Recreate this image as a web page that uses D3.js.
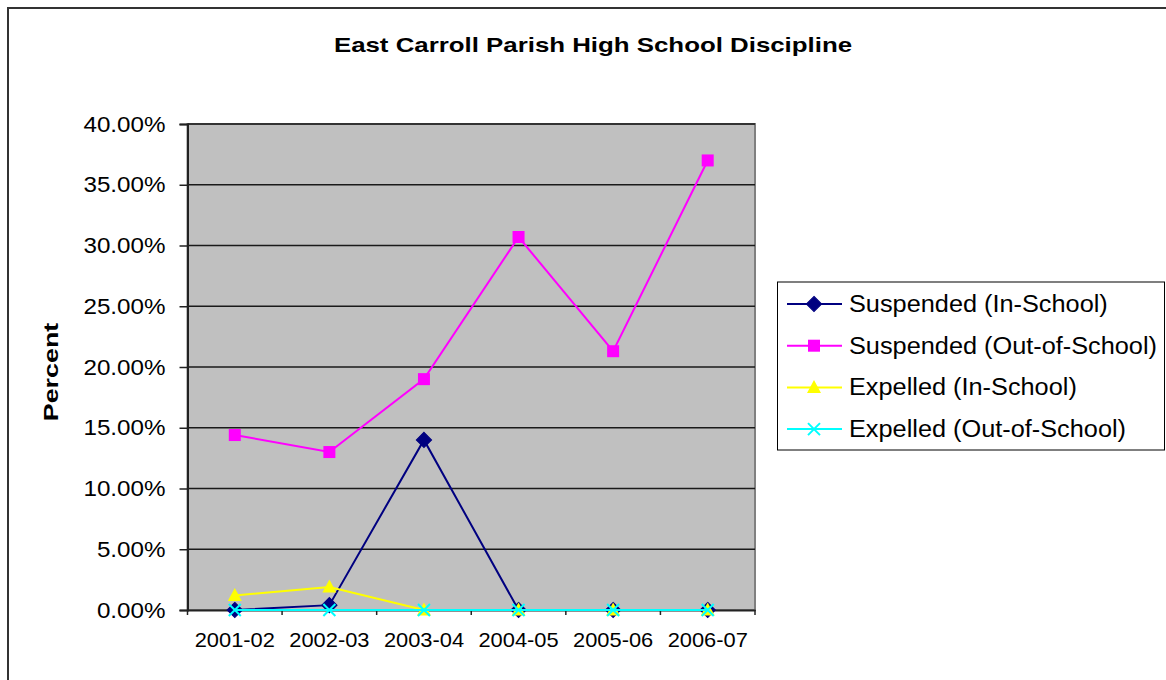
<!DOCTYPE html>
<html>
<head>
<meta charset="utf-8">
<script src="https://cdn.jsdelivr.net/npm/d3@7"></script>
<style>
  body { margin: 0; background: #fff; }
  text { font-family: Arial, "Liberation Sans", sans-serif; fill: #000; }
</style>
</head>
<body>
<svg id="chart" width="1166" height="680"></svg>
<script>
// data
var years = ["2001-02", "2002-03", "2003-04", "2004-05", "2005-06", "2006-07"];
var suspendedIn = [0.0, 0.4, 14.0, 0.0, 0.0, 0.0];
var suspendedOut = [14.4, 13.0, 19.0, 30.7, 21.3, 37.0];
var expelledIn = [1.2, 1.9, 0.0, 0.0, 0.0, 0.0];
var expelledOut = [0.0, 0.0, 0.0, 0.0, 0.0, 0.0];
var seriesNames = ["Suspended (In-School)", "Suspended (Out-of-School)", "Expelled (In-School)", "Expelled (Out-of-School)"];
var yTicks = [0, 5, 10, 15, 20, 25, 30, 35, 40];

var series = [
  { name: seriesNames[0], values: suspendedIn, color: "#000080", shape: "diamond" },
  { name: seriesNames[1], values: suspendedOut, color: "#FF00FF", shape: "square" },
  { name: seriesNames[2], values: expelledIn, color: "#FFFF00", shape: "triangle" },
  { name: seriesNames[3], values: expelledOut, color: "#00FFFF", shape: "cross" }
];

var svg = d3.select("#chart");
var plot = { left: 187.5, right: 755, top: 124, bottom: 610 };

// text drawn wider than the font's natural width in the original
function stretch(sel, k) {
  sel.each(function() {
    var w = this.getComputedTextLength();
    d3.select(this).attr("textLength", w * k).attr("lengthAdjust", "spacingAndGlyphs");
  });
}

// chart frame (right and bottom edges fall outside the picture)
svg.append("rect")
  .attr("x", 8).attr("y", 8).attr("width", 1200).attr("height", 700)
  .attr("fill", "#fff").attr("stroke", "#333").attr("stroke-width", 2);

var x = d3.scaleBand().domain(years).range([plot.left, plot.right]);
var y = d3.scaleLinear().domain([0, 40]).range([plot.bottom, plot.top]);

// plot area
svg.append("rect")
  .attr("x", plot.left).attr("y", plot.top)
  .attr("width", plot.right - plot.left).attr("height", plot.bottom - plot.top)
  .attr("fill", "#C0C0C0").attr("stroke", "#808080").attr("stroke-width", 2);

svg.append("g").selectAll("line").data(yTicks.slice(1)).enter().append("line")
  .attr("x1", plot.left).attr("x2", plot.right)
  .attr("y1", function(d) { return y(d); }).attr("y2", function(d) { return y(d); })
  .attr("stroke", "#1a1a1a").attr("stroke-width", 1.6);

// y axis
var yAxis = svg.append("g")
  .attr("transform", "translate(" + plot.left + ",0)")
  .call(d3.axisLeft(y).tickValues(yTicks).tickSize(8).tickPadding(14)
    .tickFormat(function(d) { return d.toFixed(2) + "%"; }));
yAxis.select(".domain").attr("stroke", "#222").attr("stroke-width", 2);
yAxis.selectAll(".tick line").attr("stroke", "#222").attr("stroke-width", 1.5);
yAxis.selectAll("text").attr("font-size", 22).attr("fill", "#000").attr("font-family", "Arial, 'Liberation Sans', sans-serif");
stretch(yAxis.selectAll("text"), 1.1);

// x axis, ticks at category boundaries
var xAxis = svg.append("g")
  .attr("transform", "translate(0," + plot.bottom + ")")
  .call(d3.axisBottom(x).tickSize(0).tickPadding(22));
xAxis.select(".domain").attr("stroke", "#222").attr("stroke-width", 2);
xAxis.selectAll("text").attr("font-size", 21).attr("fill", "#000").attr("font-family", "Arial, 'Liberation Sans', sans-serif");
stretch(xAxis.selectAll("text"), 1.04);
svg.append("g").selectAll("line").data(years.concat([null])).enter().append("line")
  .attr("x1", function(d, i) { return plot.left + i * x.step(); })
  .attr("x2", function(d, i) { return plot.left + i * x.step(); })
  .attr("y1", plot.bottom).attr("y2", plot.bottom + 5)
  .attr("stroke", "#222").attr("stroke-width", 1.5);

// markers
function marker(g, shape, color, cx, cy) {
  if (shape === "diamond") {
    g.append("path").attr("d", d3.symbol(d3.symbolDiamond2, 110)())
      .attr("transform", "translate(" + cx + "," + cy + ") scale(1.15,1.15)")
      .attr("fill", color).attr("stroke", color);
  } else if (shape === "square") {
    g.append("rect").attr("x", cx - 6).attr("y", cy - 6).attr("width", 12).attr("height", 12)
      .attr("fill", color);
  } else if (shape === "triangle") {
    g.append("path").attr("d", "M" + cx + "," + (cy - 7.5) + "L" + (cx + 7) + "," + (cy + 5.5) + "L" + (cx - 7) + "," + (cy + 5.5) + "Z")
      .attr("fill", color);
  } else {
    g.append("path").attr("d", "M" + (cx - 6) + "," + (cy - 6) + "L" + (cx + 6) + "," + (cy + 6) +
        "M" + (cx + 6) + "," + (cy - 6) + "L" + (cx - 6) + "," + (cy + 6))
      .attr("stroke", color).attr("stroke-width", 2);
  }
}

var line = d3.line()
  .x(function(d, i) { return x(years[i]) + x.bandwidth() / 2; })
  .y(function(d) { return y(d); });

series.forEach(function(s) {
  var g = svg.append("g");
  g.append("path").datum(s.values).attr("d", line)
    .attr("fill", "none").attr("stroke", s.color).attr("stroke-width", 2);
  s.values.forEach(function(v, i) {
    marker(g, s.shape, s.color, x(years[i]) + x.bandwidth() / 2, y(v));
  });
});

// title and axis title
var title = svg.append("text")
  .attr("x", 593).attr("y", 52).attr("text-anchor", "middle")
  .attr("font-size", 21).attr("font-weight", "bold")
  .text("East Carroll Parish High School Discipline");
stretch(title, 1.23);

var yTitle = svg.append("text")
  .attr("transform", "translate(58,372) rotate(-90)").attr("text-anchor", "middle")
  .attr("font-size", 21).attr("font-weight", "bold")
  .text("Percent");
stretch(yTitle, 1.28);

// legend
var legend = svg.append("g");
legend.append("rect")
  .attr("x", 777.5).attr("y", 282).attr("width", 387).attr("height", 168)
  .attr("fill", "#fff").attr("stroke", "#000").attr("stroke-width", 1);

series.forEach(function(s, i) {
  var ly = 304 + i * 41.7;
  var row = legend.append("g");
  row.append("line").attr("x1", 787).attr("x2", 842).attr("y1", ly).attr("y2", ly)
    .attr("stroke", s.color).attr("stroke-width", 2);
  marker(row, s.shape, s.color, 814, ly);
  var t = row.append("text").attr("x", 849).attr("y", ly + 8)
    .attr("font-size", 23).text(s.name);
  stretch(t, 1.1);
});
</script>
</body>
</html>
